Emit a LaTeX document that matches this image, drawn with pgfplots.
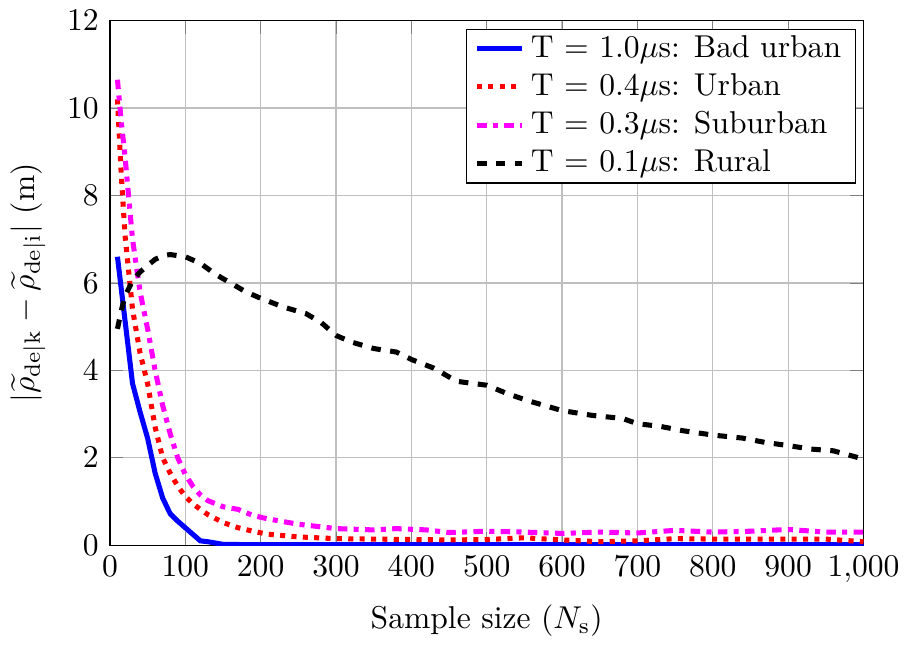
\documentclass[border=0pt]{standalone}
\usepackage{pgfplots}
\pgfplotsset{compat=1.18}
\definecolor{puremagenta}{RGB}{255,0,255}
\begin{document}
\begin{tikzpicture}
\begin{axis}[
    scale only axis,
    width=238.5pt,
    height=166pt,
    xmin=0, xmax=1000,
    ymin=0, ymax=12,
    xtick={0,100,...,1000},
    ytick={0,2,...,12},
    grid=major,
    xlabel={Sample size ($N_\mathrm{s}$)},
    ylabel={$|\widetilde{\rho}_{\mathrm{de|k}} - \widetilde{\rho}_{\mathrm{de|i}}|$ (m)},
    legend cell align=left,
    legend style={at={(0.99,0.985)}, anchor=north east,
        inner ysep=0pt, inner xsep=2.5pt, row sep=-0.4pt},
    legend image code/.code={\draw[mark repeat=2,mark phase=2,#1]
        plot coordinates {(0cm,0cm) (0.25cm,0cm) (0.5cm,0cm)};},
]
\addplot[blue, ultra thick] coordinates {
(10,6.6) (30,3.7) (40,3.05) (50,2.45) (60,1.65) (70,1.08) (80,0.72) (90,0.55)
(100,0.40) (110,0.25) (120,0.1) (130,0.08) (140,0.05) (150,0.02) (200,0.01)
(400,0.01) (600,0.01) (800,0.01) (1000,0.01)
};
\addlegendentry{T = 1.0$\mu$s: Bad urban}
\addplot[red, ultra thick, dotted] coordinates {
(10,10.2) (15,8.5) (20,7.1) (30,5.4) (40,4.4) (50,3.7) (60,2.7) (70,2.0) (80,1.65)
(90,1.35) (100,1.12) (110,0.95) (120,0.82) (130,0.7) (150,0.52) (170,0.40)
(190,0.32) (210,0.25) (250,0.19) (300,0.15) (350,0.14) (400,0.13) (450,0.12)
(500,0.13) (550,0.17) (600,0.12) (650,0.08) (700,0.10) (750,0.15) (800,0.14)
(850,0.14) (900,0.14) (950,0.14) (1000,0.08)
};
\addlegendentry{T = 0.4$\mu$s: Urban}
\addplot[puremagenta, ultra thick, dash dot] coordinates {
(10,10.65) (15,9.7) (20,8.9) (30,7.0) (40,5.8) (50,4.95) (60,4.0) (70,3.2)
(80,2.55) (90,2.0) (100,1.62) (110,1.35) (120,1.15) (130,1.02) (150,0.88)
(170,0.82) (190,0.68) (210,0.60) (250,0.48) (300,0.38) (350,0.35) (380,0.38)
(420,0.35) (450,0.29) (500,0.32) (550,0.30) (600,0.27) (650,0.30) (700,0.28)
(750,0.34) (800,0.30) (850,0.32) (900,0.36) (950,0.30) (1000,0.30)
};
\addlegendentry{T = 0.3$\mu$s: Suburban}
\addplot[black, ultra thick, dashed] coordinates {
(10,4.95) (15,5.36) (20,5.7) (30,6.05) (40,6.25) (50,6.4) (60,6.54) (70,6.62)
(80,6.65) (100,6.6) (120,6.45) (140,6.2) (160,6.0) (180,5.8) (200,5.65)
(230,5.45) (260,5.3) (280,5.1) (300,4.8) (320,4.65) (350,4.5) (380,4.42)
(400,4.25) (430,4.05) (460,3.75) (500,3.66) (530,3.45) (560,3.28) (600,3.08)
(640,2.97) (680,2.9) (700,2.78) (730,2.72) (760,2.62) (800,2.52) (840,2.45)
(870,2.35) (900,2.28) (930,2.2) (960,2.16) (1000,1.97)
};
\addlegendentry{T = 0.1$\mu$s: Rural}
\end{axis}
\end{tikzpicture}
\end{document}
